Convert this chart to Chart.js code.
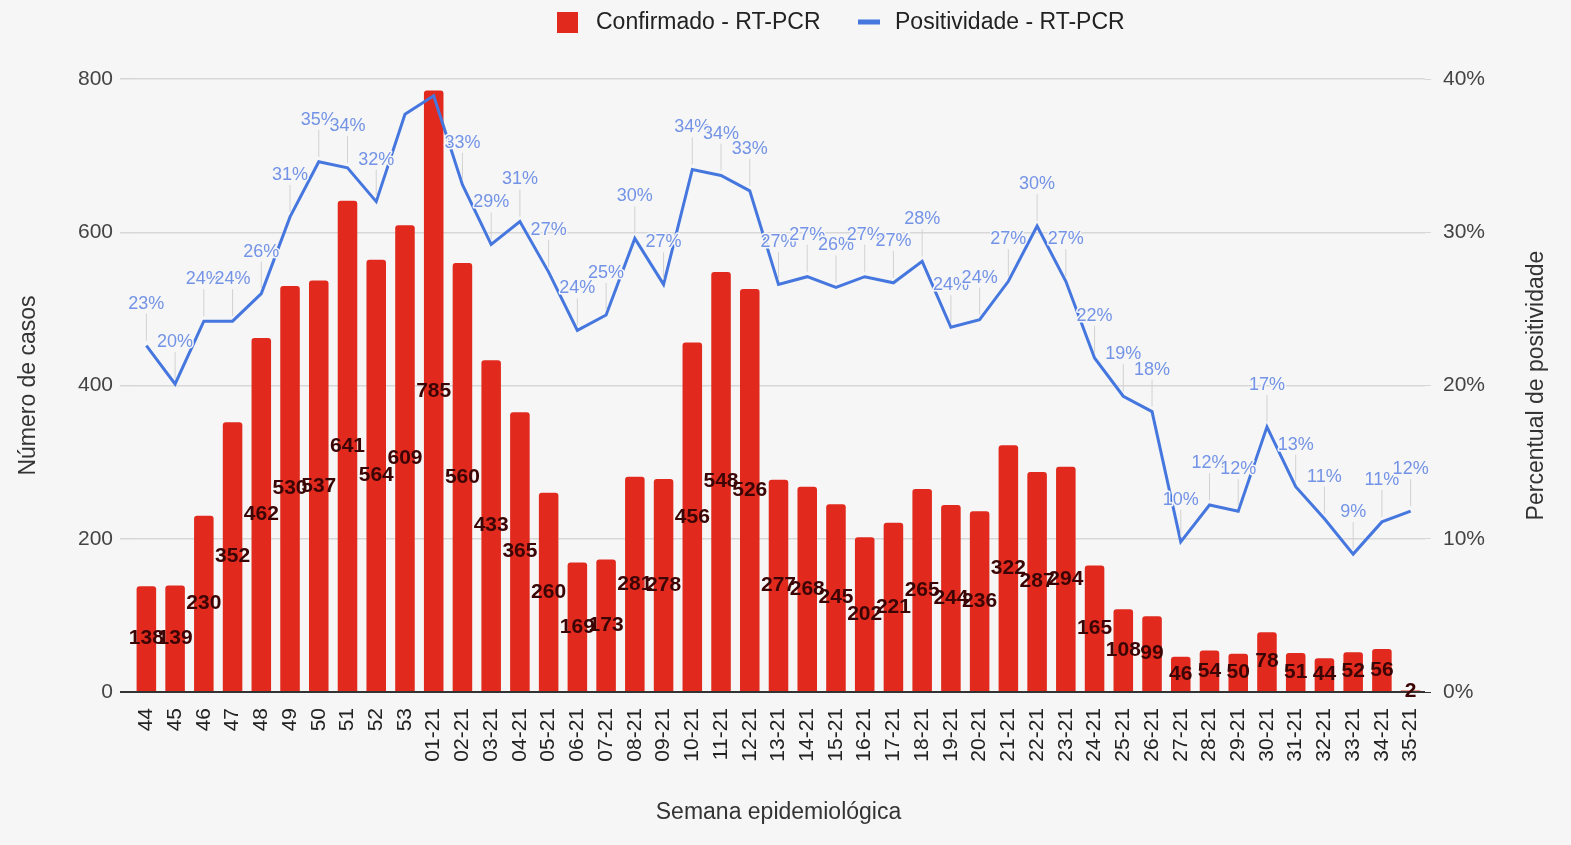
<!DOCTYPE html>
<html>
<head>
<meta charset="utf-8">
<script src="https://cdn.jsdelivr.net/npm/chart.js@4"></script>
<style>
  html, body { margin: 0; background: #f6f6f6; }
  #grafico { display: block; }
</style>
</head>
<body>
<canvas id="grafico" width="1571" height="845"></canvas>
<script>
// semanas epidemiológicas (2020 -> 2021)
const semanas = ["44","45","46","47","48","49","50","51","52","53",
  "01-21","02-21","03-21","04-21","05-21","06-21","07-21","08-21","09-21","10-21",
  "11-21","12-21","13-21","14-21","15-21","16-21","17-21","18-21","19-21","20-21",
  "21-21","22-21","23-21","24-21","25-21","26-21","27-21","28-21","29-21","30-21",
  "31-21","32-21","33-21","34-21","35-21"];

const confirmados = [138,139,230,352,462,530,537,641,564,609,
  785,560,433,365,260,169,173,281,278,456,
  548,526,277,268,245,202,221,265,244,236,
  322,287,294,165,108,99,46,54,50,78,
  51,44,52,56,2];

// % positividade
const positividade = [22.6,20.1,24.2,24.2,26.0,31.0,34.6,34.2,32.0,37.7,
  38.9,33.1,29.2,30.7,27.4,23.6,24.6,29.6,26.6,34.1,
  33.7,32.7,26.6,27.1,26.4,27.1,26.7,28.1,23.8,24.3,
  26.8,30.4,26.8,21.8,19.3,18.3,9.8,12.2,11.8,17.3,
  13.4,11.3,9.0,11.1,11.8];

const ticksCasos = { min: 0, max: 800, passo: 200 };
const ticksPerc = { min: 0, max: 40, passo: 10 };

const FONTE = "'Liberation Sans', Arial, sans-serif";
const VERMELHO = "#e12a1d";
const AZUL = "#4577df";
const FUNDO = "#f6f6f6";

const rotulos = {
  id: "rotulos",
  afterDatasetsDraw(chart) {
    const ctx = chart.ctx;
    const area = chart.chartArea;
    ctx.save();
    ctx.textAlign = "center";
    ctx.textBaseline = "middle";

    // positividade, acima do ponto com haste
    const linha = chart.getDatasetMeta(1);
    ctx.font = "18px " + FONTE;
    linha.data.forEach((el, i) => {
      const ly = el.y - 42;
      if (ly - 9 < area.top) return; // não cabe dentro da área do gráfico
      ctx.strokeStyle = "#d2d2d2";
      ctx.lineWidth = 1;
      ctx.beginPath();
      ctx.moveTo(el.x, ly + 10);
      ctx.lineTo(el.x, el.y - 5);
      ctx.stroke();
      const txt = Math.round(positividade[i]) + "%";
      ctx.strokeStyle = FUNDO;
      ctx.lineWidth = 3;
      ctx.lineJoin = "round";
      ctx.strokeText(txt, el.x, ly);
      ctx.fillStyle = "#7393e6";
      ctx.fillText(txt, el.x, ly);
    });

    // valores das barras, no meio da barra
    const barras = chart.getDatasetMeta(0);
    ctx.font = "bold 21px " + FONTE;
    ctx.fillStyle = "#3c0505";
    barras.data.forEach((el, i) => {
      const y = (el.y + el.base) / 2;
      ctx.fillText(String(confirmados[i]), el.x, y);
    });
    ctx.restore();
  },
  afterDraw(chart) {
    const ctx = chart.ctx;
    const area = chart.chartArea;
    const ds = chart.data.datasets;
    ctx.save();
    ctx.textBaseline = "middle";

    // legenda
    ctx.font = "23px " + FONTE;
    ctx.fillStyle = ds[0].backgroundColor;
    ctx.fillRect(557, 12, 21, 21);
    ctx.fillStyle = "#222";
    ctx.textAlign = "left";
    ctx.fillText(ds[0].label, 596, 23);
    ctx.strokeStyle = ds[1].borderColor;
    ctx.lineWidth = 5;
    ctx.beginPath();
    ctx.moveTo(858, 22);
    ctx.lineTo(880, 22);
    ctx.stroke();
    ctx.fillText(ds[1].label, 895, 23);

    // título do eixo direito lido de baixo para cima
    ctx.font = "23px " + FONTE;
    ctx.fillStyle = "#333";
    ctx.textAlign = "center";
    ctx.translate(area.right + 112, (area.top + area.bottom) / 2);
    ctx.rotate(-Math.PI / 2);
    ctx.fillText("Percentual de positividade", 0, 0);
    ctx.restore();
  }
};

new Chart(document.getElementById("grafico"), {
  type: "bar",
  data: {
    labels: semanas,
    datasets: [
      {
        type: "bar",
        label: "Confirmado - RT-PCR",
        data: confirmados,
        backgroundColor: VERMELHO,
        borderRadius: 3,
        barPercentage: 0.68,
        categoryPercentage: 1,
        yAxisID: "y",
        order: 1,
      },
      {
        type: "line",
        label: "Positividade - RT-PCR",
        data: positividade,
        borderColor: AZUL,
        backgroundColor: AZUL,
        borderWidth: 3,
        pointRadius: 0,
        tension: 0,
        yAxisID: "y1",
        order: 0,
      },
    ],
  },
  options: {
    responsive: false,
    animation: false,
    layout: { padding: { top: 79, left: 0, right: 0, bottom: 0 } },
    plugins: {
      tooltip: { enabled: false },
      legend: { display: false },
    },
    scales: {
      x: {
        grid: { display: false },
        border: { display: false },
        ticks: {
          autoSkip: false,
          minRotation: 90,
          maxRotation: 90,
          padding: 8,
          color: "#222",
          font: { family: FONTE, size: 21 },
        },
        title: {
          display: true,
          text: "Semana epidemiológica",
          color: "#333",
          font: { family: FONTE, size: 23, lineHeight: 1.2 },
          padding: { top: 0, bottom: 19 },
        },
        afterFit(scale) { scale.height = 153; },
      },
      y: {
        position: "left",
        min: ticksCasos.min,
        max: ticksCasos.max,
        border: { display: false },
        grid: {
          color: (c) => (c.tick && c.tick.value === 0 ? "#333" : "#d7d7d7"),
          lineWidth: (c) => (c.tick && c.tick.value === 0 ? 2 : 1.5),
          tickLength: 12,
        },
        ticks: {
          stepSize: ticksCasos.passo,
          padding: 7,
          color: "#444",
          font: { family: FONTE, size: 21 },
        },
        title: {
          display: true,
          text: "Número de casos",
          color: "#333",
          font: { family: FONTE, size: 23, lineHeight: 1.2 },
          padding: { top: 15, bottom: 0 },
        },
        afterFit(scale) { scale.width = 132; },
      },
      y1: {
        position: "right",
        min: ticksPerc.min,
        max: ticksPerc.max,
        border: { display: false },
        grid: {
          drawOnChartArea: false,
          color: (c) => (c.tick && c.tick.value === 0 ? "#333" : "#d7d7d7"),
          tickLength: 6,
        },
        ticks: {
          stepSize: ticksPerc.passo,
          padding: 12,
          color: "#444",
          font: { family: FONTE, size: 21 },
          callback: (v) => v + "%",
        },
        afterFit(scale) { scale.width = 146; },
      },
    },
  },
  plugins: [rotulos],
});
</script>
</body>
</html>
